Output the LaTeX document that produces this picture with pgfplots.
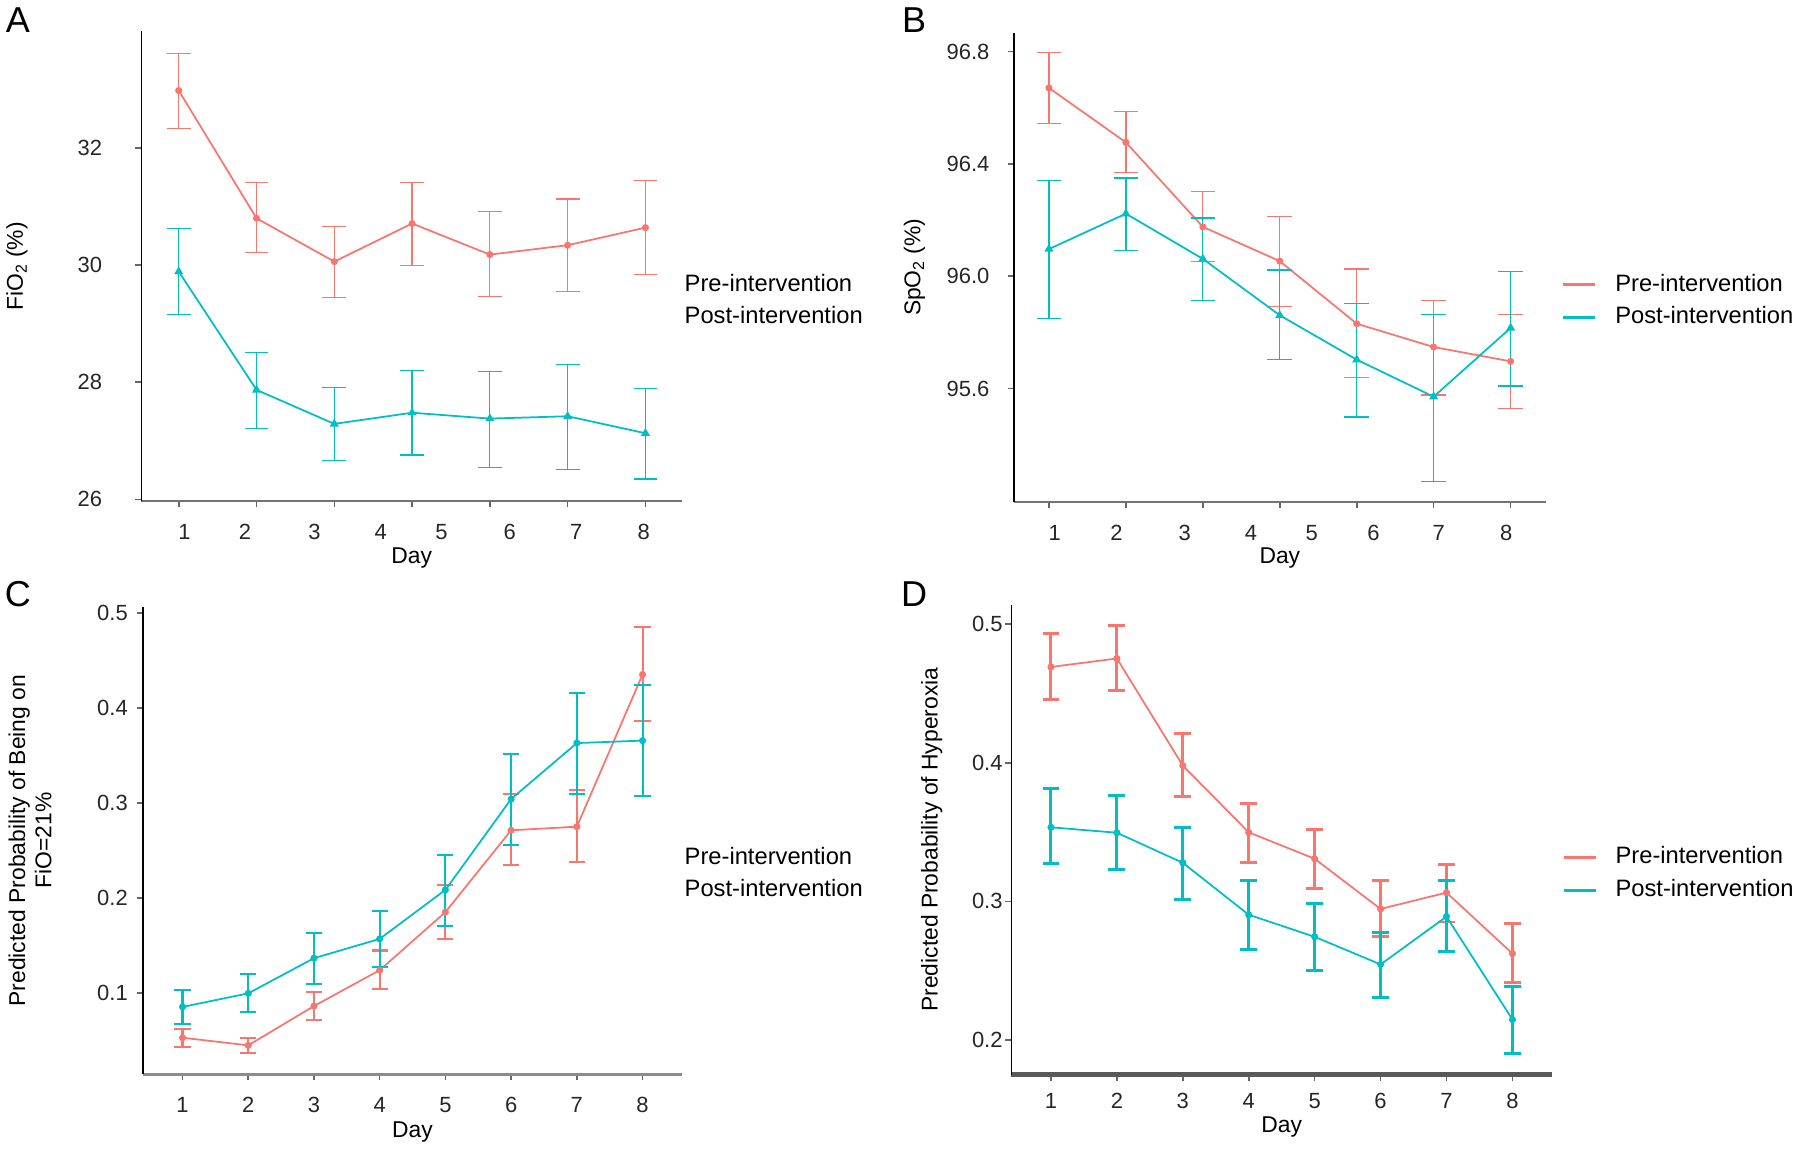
\documentclass[border=0pt]{standalone}
\usepackage{fontspec}
\setmainfont{Liberation Sans}
\usepackage{pgfplots}
\usepackage{pgfplotstable}
\pgfplotsset{compat=1.18}
\definecolor{pre}{HTML}{F8766D}
\definecolor{post}{HTML}{00BFC4}

% x = day, m = estimate, hi/lo = interval ends
\pgfplotstableread{
x m hi lo
1 32.98 33.61 32.33
2 30.80 31.41 30.21
3 30.06 30.66 29.45
4 30.71 31.41 30.00
5 30.18 30.91 29.46
6 30.34 31.13 29.55
7 30.64 31.45 29.84
}\Apre
\pgfplotstableread{
x m hi lo
1 29.89 30.63 29.16
2 27.87 28.51 27.21
3 27.29 27.91 26.66
4 27.48 28.20 26.76
5 27.38 28.18 26.55
6 27.42 28.30 26.51
7 27.13 27.90 26.35
}\Apost
\pgfplotstableread{
x m hi lo
1 96.671 96.796 96.543
2 96.477 96.588 96.369
3 96.176 96.302 96.052
4 96.054 96.213 95.892
5 95.831 96.026 95.640
6 95.748 95.914 95.577
7 95.697 95.863 95.528
}\Bpre
\pgfplotstableread{
x m hi lo
1 96.097 96.340 95.851
2 96.223 96.350 96.091
3 96.062 96.208 95.914
4 95.861 96.022 95.703
5 95.703 95.903 95.499
6 95.571 95.863 95.270
7 95.816 96.017 95.609
}\Bpost
\pgfplotstableread{
x m hi lo
1 0.0527 0.0623 0.0431
2 0.0447 0.0520 0.0367
3 0.0860 0.1009 0.0718
4 0.1238 0.1445 0.1039
5 0.1849 0.2133 0.1567
6 0.2710 0.3089 0.2343
7 0.2748 0.3135 0.2373
8 0.4350 0.4847 0.3861
}\Cpre
\pgfplotstableread{
x m hi lo
1 0.0851 0.1027 0.0676
2 0.0994 0.1195 0.0795
3 0.1364 0.1628 0.1093
4 0.1567 0.1865 0.1268
5 0.2083 0.2454 0.1700
6 0.3039 0.3516 0.2553
7 0.3628 0.4159 0.3089
8 0.3654 0.4243 0.3070
}\Cpost
\pgfplotstableread{
x m hi lo
1 0.4691 0.4929 0.4456
2 0.4752 0.4990 0.4521
3 0.3979 0.4210 0.3754
4 0.3498 0.3707 0.3283
5 0.3307 0.3516 0.3095
6 0.2945 0.3149 0.2744
7 0.3063 0.3267 0.2851
8 0.2623 0.2841 0.2413
}\Dpre
\pgfplotstableread{
x m hi lo
1 0.3534 0.3812 0.3270
2 0.3495 0.3762 0.3230
3 0.3278 0.3532 0.3016
4 0.2903 0.3152 0.2654
5 0.2744 0.2987 0.2500
6 0.2545 0.2775 0.2309
7 0.2890 0.3152 0.2636
8 0.2147 0.2387 0.1903
}\Dpost

\pgfplotsset{
  base/.style={
    scale only axis, anchor=south west, clip=false,
    axis lines=left, axis line style={-},
    y axis line style={black, line width=0.9pt},
    x axis line style={black!55, line width=1.2pt},
    tick align=outside, major tick length=1.2mm,
    tick style={black!60, line width=0.9pt},
    tick label style={font=\fontsize{12.5}{14}\selectfont, black!85},
    label style={font=\fontsize{13}{15}\selectfont},
    xlabel={Day},
    xlabel style={at={(axis description cs:0.5,0)}, anchor=center},
    /pgf/number format/assume math mode=true,
    legend cell align=left,
    legend style={draw=none, fill=none, anchor=west, inner sep=0pt, outer sep=0pt,
      font=\fontsize{13.5}{16}\selectfont, row sep=2mm,
      nodes={inner sep=0pt, text height=3.5mm, text depth=1mm}},
  },
  nolegimg/.style={legend image code/.code={},
    legend style={/tikz/every odd column/.append style={column sep=0pt}}},
  legimg/.style={legend image code/.code={\draw[##1, mark=none, line width=1.6pt] (0mm,0mm) -- (6.4mm,0mm);},
    legend style={/tikz/every odd column/.append style={column sep=3.7mm}}},
  preL/.style={color=pre, line width=1pt, mark=*, mark size=1.5pt, mark options={solid}},
  postL/.style={color=post, line width=1pt, mark=*, mark size=1.5pt, mark options={solid}},
  postT/.style={color=post, line width=1pt, mark=triangle*, mark size=2pt, mark options={solid}},
}

\begin{document}
\begin{tikzpicture}
\path[use as bounding box] (0,0) rectangle (360mm,-229.8mm);
\node[font=\fontsize{20.5}{24}\selectfont] at (3.6mm,-4mm) {A};
\node[font=\fontsize{20.5}{24}\selectfont] at (182.8mm,-4mm) {B};
\node[font=\fontsize{20.5}{24}\selectfont] at (3.6mm,-118.8mm) {C};
\node[font=\fontsize{20.5}{24}\selectfont] at (182.8mm,-118.8mm) {D};

% ---- A ----
\begin{axis}[base, nolegimg, at={(28.28mm,-100.26mm)}, width=108.12mm, height=93.98mm,
  xmin=0.52, xmax=7.47, ymin=25.968, ymax=33.99,
  ytick={26,28,30,32},
  yticklabel style={anchor=east, inner sep=0pt, xshift=-6.6mm},
  xtick={1,...,7}, xticklabels={,,,,,,},
  extra x ticks={1.073,1.853,2.745,3.598,4.378,5.254,6.109,6.978},
  extra x tick labels={1,2,3,4,5,6,7,8},
  extra x tick style={major tick length=0pt},
  xticklabel style={anchor=north, inner sep=0pt, yshift=-4.6mm},
  xlabel style={yshift=-11.4mm},
  ylabel={FiO\textsubscript{2} (\%)},
  ylabel style={at={(axis description cs:-0.230,0.5)}, anchor=center},
  legend style={at={(1.005,0.426)}},
]
\addplot[preL, error bars/.cd, y dir=both, y explicit,
  error bar style={line width=0.7pt}, error mark options={rotate=90, line width=0.7pt, mark size=6.8pt}]
  table[x=x, y=m, y error plus expr=\thisrow{hi}-\thisrow{m}, y error minus expr=\thisrow{m}-\thisrow{lo}] {\Apre};
\addlegendentry{Pre-intervention}
\addplot[postT, error bars/.cd, y dir=both, y explicit,
  error bar style={line width=0.7pt}, error mark options={rotate=90, line width=0.7pt, mark size=6.8pt}]
  table[x=x, y=m, y error plus expr=\thisrow{hi}-\thisrow{m}, y error minus expr=\thisrow{m}-\thisrow{lo}] {\Apost};
\addlegendentry{Post-intervention}
\end{axis}

% ---- B ----
\begin{axis}[base, legimg, at={(202.74mm,-100.4mm)}, width=106.46mm, height=93.88mm,
  xmin=0.542, xmax=7.46, ymin=95.196, ymax=96.868,
  ytick={95.6,96.0,96.4,96.8},
  yticklabel style={anchor=east, inner sep=0pt, xshift=-3.6mm,
    /pgf/number format/fixed, /pgf/number format/fixed zerofill, /pgf/number format/precision=1},
  xtick={1,...,7}, xticklabels={,,,,,,},
  extra x ticks={1.074,1.878,2.763,3.626,4.414,5.218,6.066,6.944},
  extra x tick labels={1,2,3,4,5,6,7,8},
  extra x tick style={major tick length=0pt},
  xticklabel style={anchor=north, inner sep=0pt, yshift=-4.6mm},
  xlabel style={yshift=-11.3mm},
  ylabel={SpO\textsubscript{2} (\%)},
  ylabel style={at={(axis description cs:-0.1866,0.5)}, anchor=center},
  legend style={at={(1.030,0.428)}},
]
\addplot[preL, error bars/.cd, y dir=both, y explicit,
  error bar style={line width=0.7pt}, error mark options={rotate=90, line width=0.7pt, mark size=7pt}]
  table[x=x, y=m, y error plus expr=\thisrow{hi}-\thisrow{m}, y error minus expr=\thisrow{m}-\thisrow{lo}] {\Bpre};
\addlegendentry{Pre-intervention}
\addplot[postT, error bars/.cd, y dir=both, y explicit,
  error bar style={line width=0.7pt}, error mark options={rotate=90, line width=0.7pt, mark size=7pt}]
  table[x=x, y=m, y error plus expr=\thisrow{hi}-\thisrow{m}, y error minus expr=\thisrow{m}-\thisrow{lo}] {\Bpost};
\addlegendentry{Post-intervention}
\end{axis}

% ---- C ----
\begin{axis}[base, nolegimg, at={(28.62mm,-214.84mm)}, width=107.78mm, height=93.44mm,
  xmin=0.4, xmax=8.6, ymin=0.0143, ymax=0.506,
  xtick={1,...,8},
  ytick={0.1,0.2,0.3,0.4,0.5},
  x axis line style={black!45, line width=1.6pt},
  yticklabel style={anchor=east, inner sep=0pt, xshift=-1.8mm},
  xticklabel style={anchor=north, inner sep=0pt, yshift=-3.3mm},
  xlabel style={yshift=-11.6mm},
  ylabel={Predicted Probability of Being on\\FiO=21\%},
  ylabel style={at={(axis description cs:-0.2097,0.5)}, anchor=center, align=center},
  legend style={at={(1.005,0.4285)}},
]
\addplot[preL, error bars/.cd, y dir=both, y explicit,
  error bar style={line width=1.2pt}, error mark options={rotate=90, line width=1.2pt, mark size=4.6pt}]
  table[x=x, y=m, y error plus expr=\thisrow{hi}-\thisrow{m}, y error minus expr=\thisrow{m}-\thisrow{lo}] {\Cpre};
\addlegendentry{Pre-intervention}
\addplot[postL, error bars/.cd, y dir=both, y explicit,
  error bar style={line width=1.2pt}, error mark options={rotate=90, line width=1.2pt, mark size=4.6pt}]
  table[x=x, y=m, y error plus expr=\thisrow{hi}-\thisrow{m}, y error minus expr=\thisrow{m}-\thisrow{lo}] {\Cpost};
\addlegendentry{Post-intervention}
\end{axis}

% ---- D ----
\begin{axis}[base, legimg, at={(202.28mm,-214.92mm)}, width=108.12mm, height=93.98mm,
  xmin=0.4, xmax=8.6, ymin=0.175, ymax=0.514,
  xtick={1,...,8},
  ytick={0.2,0.3,0.4,0.5},
  x axis line style={black!65, line width=2.6pt},
  yticklabel style={anchor=east, inner sep=0pt, xshift=-0.5mm},
  xticklabel style={anchor=north, inner sep=0pt, yshift=-2.5mm},
  xlabel style={yshift=-10.5mm},
  ylabel={Predicted Probability of Hyperoxia},
  ylabel style={at={(axis description cs:-0.1474,0.5)}, anchor=center},
  legend style={at={(1.019,0.427)}},
]
\addplot[preL, error bars/.cd, y dir=both, y explicit,
  error bar style={line width=1.7pt}, error mark options={rotate=90, line width=1.7pt, mark size=4.8pt}]
  table[x=x, y=m, y error plus expr=\thisrow{hi}-\thisrow{m}, y error minus expr=\thisrow{m}-\thisrow{lo}] {\Dpre};
\addlegendentry{Pre-intervention}
\addplot[postL, error bars/.cd, y dir=both, y explicit,
  error bar style={line width=1.7pt}, error mark options={rotate=90, line width=1.7pt, mark size=4.8pt}]
  table[x=x, y=m, y error plus expr=\thisrow{hi}-\thisrow{m}, y error minus expr=\thisrow{m}-\thisrow{lo}] {\Dpost};
\addlegendentry{Post-intervention}
\end{axis}
\end{tikzpicture}
\end{document}
